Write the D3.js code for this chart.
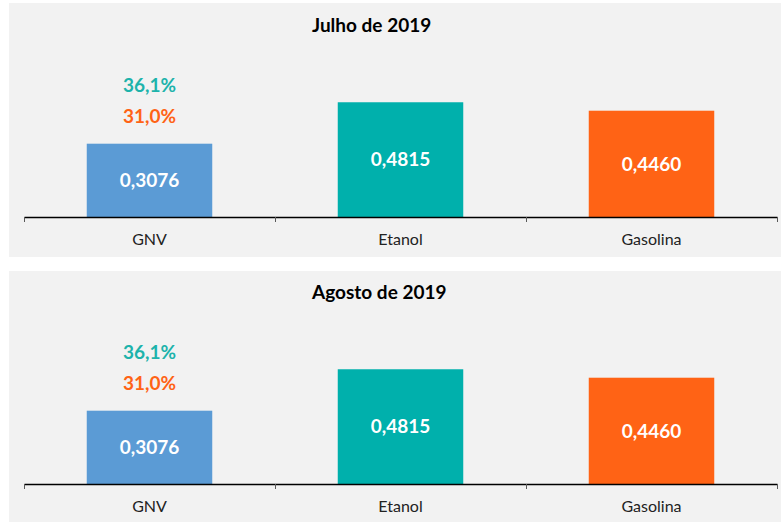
<!DOCTYPE html>
<html>
<head>
<meta charset="utf-8">
<script src="https://cdn.jsdelivr.net/npm/d3@7"></script>
<style>
  html, body { margin: 0; padding: 0; background: #ffffff; }
  svg { display: block; font-family: Lato, "Open Sans", sans-serif; }
</style>
</head>
<body>
<svg id="chart" width="781" height="522"></svg>
<script>
// ---- data ----
const categories = ["GNV", "Etanol", "Gasolina"];
const panelTitles = ["Julho de 2019", "Agosto de 2019"];
const julyValues = [0.3076, 0.4815, 0.4460];
const augustValues = [0.3076, 0.4815, 0.4460];
const panelValues = [julyValues, augustValues];
const savingsVsEtanol = ["36,1%", "36,1%"];
const savingsVsGasolina = ["31,0%", "31,0%"];
const valueLabels = [["0,3076", "0,4815", "0,4460"], ["0,3076", "0,4815", "0,4460"]];
const barColors = ["#5b9bd5", "#00b0ac", "#ff6315"];
const pctColors = ["#1db3ab", "#ff6315"];

const svg = d3.select("#chart");

const panelLayout = [
  { top: 3, height: 254, base: 217 },
  { top: 271, height: 251, base: 484 }
];

const x = d3.scaleBand().domain(categories).range([24, 777]).paddingInner(0).paddingOuter(0);
const xIdx = d3.scaleLinear().domain([0, categories.length]).range([24, 777]);

panelLayout.forEach((p, pi) => {
  const g = svg.append("g");
  g.append("rect")
    .attr("x", 9).attr("y", p.top)
    .attr("width", 772).attr("height", p.height)
    .attr("fill", "#f2f2f2");

  const y = d3.scaleLinear().domain([0, 0.6]).range([p.base, p.base - 0.6 * 238.3]);
  const vals = panelValues[pi];

  // title
  g.append("text")
    .attr("x", 312).attr("y", p.base - 185)
    .attr("font-size", 19).attr("font-weight", "bold")
    .attr("fill", "#000")
    .text(panelTitles[pi]);

  // bars
  const bw = x.bandwidth() * 0.5;
  g.selectAll("rect.bar").data(categories).enter().append("rect")
    .attr("class", "bar")
    .attr("x", d => x(d) + (x.bandwidth() - bw) / 2)
    .attr("width", bw)
    .attr("y", (d, i) => y(vals[i]))
    .attr("height", (d, i) => y(0) - y(vals[i]))
    .attr("fill", (d, i) => barColors[i]);

  // value labels
  g.selectAll("text.val").data(categories).enter().append("text")
    .attr("class", "val")
    .attr("x", d => x(d) + x.bandwidth() / 2)
    .attr("y", (d, i) => (y(vals[i]) + y(0)) / 2)
    .attr("dy", "0.35em")
    .attr("text-anchor", "middle")
    .attr("font-size", 19).attr("font-weight", "bold")
    .attr("fill", "#ffffff")
    .text((d, i) => valueLabels[pi][i]);

  // savings labels above GNV bar
  const cx = x(categories[0]) + x.bandwidth() / 2;
  const gTop = y(vals[0]);
  g.append("text")
    .attr("x", cx).attr("y", gTop - 58).attr("dy", "0.35em")
    .attr("text-anchor", "middle")
    .attr("font-size", 19).attr("font-weight", "bold")
    .attr("fill", pctColors[0])
    .text(savingsVsEtanol[pi]);
  g.append("text")
    .attr("x", cx).attr("y", gTop - 27).attr("dy", "0.35em")
    .attr("text-anchor", "middle")
    .attr("font-size", 19).attr("font-weight", "bold")
    .attr("fill", pctColors[1])
    .text(savingsVsGasolina[pi]);

  // axis with boundary ticks
  const axisG = g.append("g")
    .attr("transform", `translate(0,${p.base})`)
    .call(d3.axisBottom(xIdx).tickValues(d3.range(categories.length + 1)).tickFormat("").tickSize(5).tickSizeOuter(0));
  axisG.select(".domain").attr("stroke", "#000").attr("stroke-width", 1.3);
  axisG.selectAll(".tick line").attr("stroke", "#595959");

  // category labels
  const labG = g.append("g")
    .attr("transform", `translate(0,${p.base})`)
    .call(d3.axisBottom(x).tickSize(0).tickPadding(17));
  labG.select(".domain").remove();
  labG.selectAll("text")
    .attr("font-size", 16)
    .attr("font-family", "Lato, 'Open Sans', sans-serif")
    .attr("fill", "#222");
});
</script>
</body>
</html>
